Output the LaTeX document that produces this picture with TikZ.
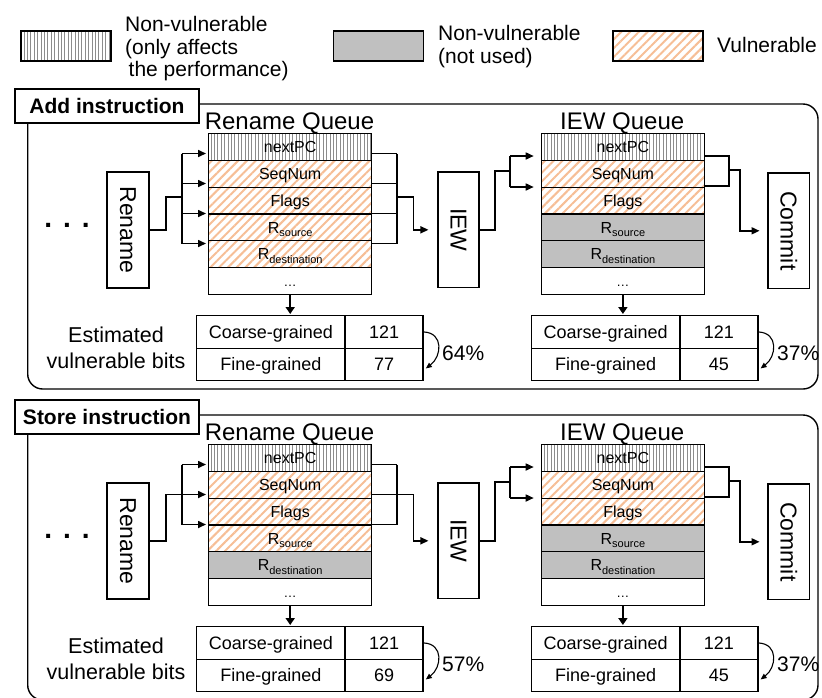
\documentclass[tikz,border=0pt]{standalone}
\usepackage{fontspec}
\usepackage{graphicx}
\setmainfont{Liberation Sans}
\usetikzlibrary{arrows.meta,patterns.meta}

\definecolor{hatchorange}{RGB}{246,190,150}
\definecolor{unusedgray}{RGB}{192,192,192}
\definecolor{perfgray}{RGB}{140,140,140}

\newcommand\fs[1]{\fontsize{#1}{#1}\selectfont}
\newcommand\Rsub[1]{R\raisebox{-3.5pt}[0pt][0pt]{\fs{11}#1}}

\tikzset{
  vuln/.style={pattern={Lines[angle=45,distance=6.2pt,line width=2pt]},pattern color=hatchorange},
  perf/.style={pattern={Lines[angle=90,distance=3.4pt,line width=0.5pt]},pattern color=perfgray},
  unused/.style={fill=unusedgray},
  emptycell/.style={fill=white},
  qcell/.style={draw,line width=1.4pt,minimum width=163pt,minimum height=26.75pt,inner sep=0pt,
                anchor=north west,text height=11.5pt,text depth=0pt,font=\fs{16}},
  stagebox/.style={draw,line width=1.8pt,minimum width=41.5pt,minimum height=115.5pt,inner sep=0pt,font=\fs{23}},
  tcell/.style={draw,line width=1.4pt,minimum height=32.5pt,inner sep=0pt,anchor=north west,
                text height=13pt,text depth=0pt,font=\fs{18}},
  tcolA/.style={tcell,minimum width=148.4pt},
  tcolB/.style={tcell,minimum width=78pt},
  conn/.style={line width=1.6pt},
  arr/.style={conn,-{Triangle[length=8pt,width=7pt]}},
  downarr/.style={line width=2.4pt,-{Triangle[length=7pt,width=9pt]}},
  ratioarr/.style={line width=1.1pt,-{Triangle[length=6pt,width=5pt]}},
  txt/.style={inner sep=0pt,font=\fs{21}},
  qtitle/.style={inner sep=0pt,anchor=base,font=\fs{24}},
  panelframe/.style={line width=1.4pt,rounded corners=15pt},
  titlebox/.style={draw,fill=white,line width=1.4pt,minimum width=184pt,minimum height=34pt,
                   inner sep=0pt,text height=15pt,text depth=0pt,font=\bfseries\fs{21}},
  legendbox/.style={draw,line width=1.4pt,minimum width=90pt,minimum height=30pt,inner sep=0pt},
}

% One instruction panel: #1 name prefix, #2 title, #3 style of the rename-queue
% destination register row, #4 fine-grained count of the rename queue, #5 its reduction
\newcommand\panelbody[5]{%
  \draw[panelframe] (27.7,104) rectangle (818,389);
  \node[titlebox] (#1-title) at (107,106) {#2};
  \node[inner sep=0pt,anchor=base,font=\bfseries\fs{28}] (#1-dots) at (67,227.5)
       {.\hspace{11pt}.\hspace{11pt}.};
  % pipeline stages
  \node[stagebox] (#1-ren) at (128,229.9) {\rotatebox{-90}{Rename}};
  \node[stagebox] (#1-iew) at (458.5,229.8) {\rotatebox{-90}{IEW}};
  \node[stagebox] (#1-com) at (788.8,230.8) {\rotatebox{-90}{Commit}};
  % rename queue
  \node[qtitle] (#1-rqt) at (289.5,129.3) {Rename Queue};
  \node[qcell,perf] (#1-rq1) at (208,133) {nextPC};
  \node[qcell,vuln] (#1-rq2) at (208,159.75) {SeqNum};
  \node[qcell,vuln] (#1-rq3) at (208,186.5) {Flags};
  \node[qcell,vuln] (#1-rq4) at (208,213.25) {\Rsub{source}};
  \node[qcell,#3] (#1-rq5) at (208,240) {\Rsub{destination}};
  \node[qcell,emptycell] (#1-rq6) at (208,266.75) {\fs{13}\ldots};
  % IEW queue
  \node[qtitle] (#1-iqt) at (622.2,129.3) {IEW Queue};
  \node[qcell,perf] (#1-iq1) at (540.7,133) {nextPC};
  \node[qcell,vuln] (#1-iq2) at (540.7,159.75) {SeqNum};
  \node[qcell,vuln] (#1-iq3) at (540.7,186.5) {Flags};
  \node[qcell,unused] (#1-iq4) at (540.7,213.25) {\Rsub{source}};
  \node[qcell,unused] (#1-iq5) at (540.7,240) {\Rsub{destination}};
  \node[qcell,emptycell] (#1-iq6) at (540.7,266.75) {\fs{13}\ldots};
  % estimated vulnerable bits
  \node[txt,anchor=base,font=\fs{21.5}] (#1-est1) at (116,342.7) {Estimated};
  \node[txt,anchor=base,font=\fs{21.5}] (#1-est2) at (116,368.3) {vulnerable bits};
  \node[tcolA] (#1-rt1) at (196,315) {Coarse-grained};
  \node[tcolB] (#1-rt2) at (344.4,315) {121};
  \node[tcolA] (#1-rt3) at (196,347.5) {Fine-grained};
  \node[tcolB] (#1-rt4) at (344.4,347.5) {#4};
  \node[tcolA] (#1-it1) at (530.8,315) {Coarse-grained};
  \node[tcolB] (#1-it2) at (679.2,315) {121};
  \node[tcolA] (#1-it3) at (530.8,347.5) {Fine-grained};
  \node[tcolB] (#1-it4) at (679.2,347.5) {45};
  \draw[downarr,shorten >=1pt] (#1-rq6.south) -- (#1-rq6.south |- #1-rt1.north);
  \draw[downarr,shorten >=1pt] (#1-iq6.south) -- (#1-iq6.south |- #1-it1.north);
  \draw[ratioarr] (#1-rt2.east) .. controls +(20,1) and +(16,-12) .. ([xshift=2pt,yshift=-4pt]#1-rt4.east);
  \draw[ratioarr] (#1-it2.east) .. controls +(20,1) and +(16,-12) .. ([xshift=2pt,yshift=-4pt]#1-it4.east);
  \node[txt,anchor=west] (#1-rpct) at (442,353) {#5};
  \node[txt,anchor=west] (#1-ipct) at (777,353) {37\%};
  % IEW stage to IEW queue
  \coordinate (#1-ij) at (510,170.7);
  \coordinate (#1-ib1) at (510,156);
  \coordinate (#1-ib2) at (510,187);
  \draw[conn] (#1-iew.east) -- ++(15,0) |- (#1-ij);
  \draw[conn] (#1-ib1) -- (#1-ib2);
  \draw[arr,shorten >=7pt] (#1-ib1) -- (#1-iq1.west |- #1-ib1);
  \draw[arr,shorten >=7pt] (#1-ib2) -- (#1-iq1.west |- #1-ib2);
  % IEW queue to commit
  \coordinate (#1-ob1) at (729,155.7);
  \coordinate (#1-ob2) at (729,185.7);
  \coordinate (#1-oj) at (729,170);
  \draw[conn] (#1-iq1.east |- #1-ob1) -- (#1-ob1) -- (#1-ob2) -- (#1-iq1.east |- #1-ob2);
  \draw[arr,shorten >=7.6pt] (#1-oj) -- ++(11,0) |- (#1-com.west);
}

\begin{document}
\begin{tikzpicture}[x=1pt,y=-1pt]
  \useasboundingbox (0,0) rectangle (822,697);
  \clip (0,0) rectangle (822,697);

  % legend
  \node[legendbox,perf] (lg-perf) at (66,46) {};
  \node[txt,anchor=base west] (lg-perf1) at (125,31.5) {Non-vulnerable};
  \node[txt,anchor=base west] (lg-perf2) at (125,54) {(only affects};
  \node[txt,anchor=base west] (lg-perf3) at (128.5,76.5) {the performance)};
  \node[legendbox,unused] (lg-unused) at (378.5,46) {};
  \node[txt,anchor=base west] (lg-unused1) at (438,40.7) {Non-vulnerable};
  \node[txt,anchor=base west] (lg-unused2) at (438,63.3) {(not used)};
  \node[legendbox,vuln] (lg-vuln) at (658,46) {};
  \node[txt,anchor=base west] (lg-vuln1) at (717,52.7) {Vulnerable};

  % add instruction
  \panelbody{a}{Add instruction}{vuln}{77}{64\%}
  \coordinate (a-ib1) at (181.7,153.5);
  \coordinate (a-ib4) at (181.7,243.5);
  \draw[conn] (a-ren.east) -- ++(16.5,0) |- (181.7,196.7);
  \draw[conn] (a-ib1) -- (a-ib4);
  \foreach \y in {153.5,183.5,213.5,243.5}
    \draw[arr,shorten >=2pt] (181.7,\y) -- (a-rq1.west |- 181.7,\y);
  \foreach \y in {153.5,183.5,213.5,243.5}
    \draw[conn] (a-rq1.east |- 396.7,\y) -- (396.7,\y);
  \draw[conn] (396.7,153.5) -- (396.7,243.5);
  \draw[arr,shorten >=8.4pt] (396.7,196.7) -- (413.3,196.7) |- (a-iew.west);

  % store instruction
  \begin{scope}[yshift=-311pt]
    \panelbody{s}{Store instruction}{unused}{69}{57\%}
    \coordinate (s-ib1) at (181.7,153.5);
    \coordinate (s-ib3) at (181.7,213.5);
    \draw[conn] (s-ren.east) -- ++(16.5,0) |- (181.7,183.5);
    \draw[conn] (s-ib1) -- (s-ib3);
    \foreach \y in {153.5,183.5,213.5}
      \draw[arr,shorten >=2pt] (181.7,\y) -- (s-rq1.west |- 181.7,\y);
    \foreach \y in {153.5,183.5,213.5}
      \draw[conn] (s-rq1.east |- 396.7,\y) -- (396.7,\y);
    \draw[conn] (396.7,153.5) -- (396.7,213.5);
    \draw[arr,shorten >=8.4pt] (396.7,183.5) -- (413.3,183.5) |- (s-iew.west);
  \end{scope}
\end{tikzpicture}
\end{document}
